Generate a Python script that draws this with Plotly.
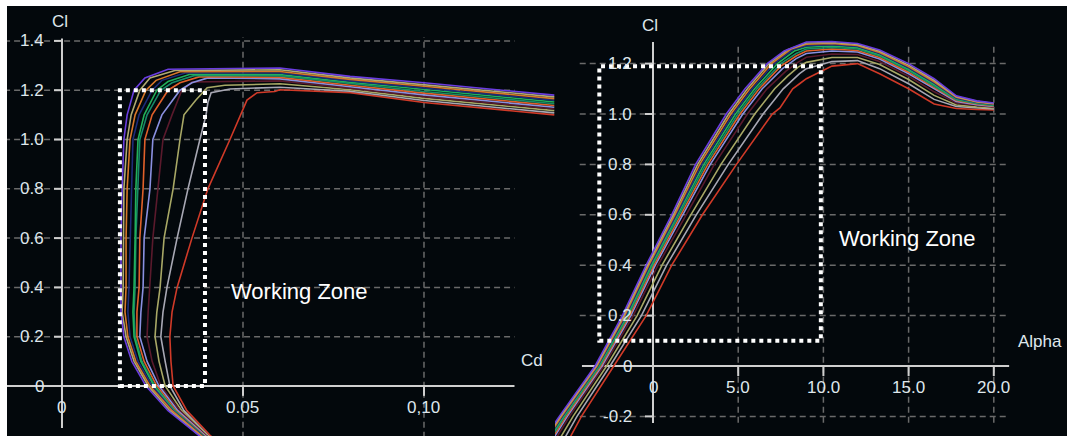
import plotly.graph_objects as go

# ---------------- data ----------------
CURVE_COLORS = ["#6a3de0", "#b0aa72", "#d8782a", "#1e2c78", "#22b05a", "#178a68",
                "#e0602a", "#8a90e0", "#5a1a2c", "#a8a866", "#a8a8b4", "#d03a28"]

# Left panel: Cl vs Cd polar
POLAR_CL_LEVELS = [-0.3, -0.2, -0.1, 0.0, 0.1, 0.2, 0.3, 0.4, 0.6, 0.8, 1.0, 1.1]
POLAR_CD = [
    [0.0459, 0.0378, 0.0293, 0.0232, 0.0193, 0.0171, 0.0163, 0.0163, 0.0163, 0.0166, 0.0171, 0.0180],
    [0.0461, 0.0381, 0.0298, 0.0238, 0.0199, 0.0177, 0.0166, 0.0169, 0.0169, 0.0171, 0.0180, 0.0191],
    [0.0464, 0.0384, 0.0304, 0.0243, 0.0204, 0.0182, 0.0174, 0.0177, 0.0177, 0.0180, 0.0188, 0.0202],
    [0.0467, 0.0387, 0.0307, 0.0249, 0.0210, 0.0188, 0.0182, 0.0185, 0.0188, 0.0191, 0.0196, 0.0213],
    [0.0470, 0.0387, 0.0309, 0.0254, 0.0218, 0.0199, 0.0196, 0.0199, 0.0202, 0.0204, 0.0210, 0.0227],
    [0.0472, 0.0390, 0.0312, 0.0257, 0.0221, 0.0202, 0.0199, 0.0202, 0.0204, 0.0210, 0.0215, 0.0235],
    [0.0475, 0.0392, 0.0315, 0.0262, 0.0227, 0.0207, 0.0207, 0.0213, 0.0215, 0.0224, 0.0229, 0.0249],
    [0.0478, 0.0395, 0.0320, 0.0268, 0.0235, 0.0215, 0.0218, 0.0224, 0.0227, 0.0243, 0.0251, 0.0276],
    [0.0481, 0.0398, 0.0326, 0.0273, 0.0249, 0.0235, 0.0238, 0.0243, 0.0251, 0.0265, 0.0279, 0.0304],
    [0.0483, 0.0401, 0.0331, 0.0285, 0.0268, 0.0257, 0.0262, 0.0271, 0.0282, 0.0307, 0.0326, 0.0337],
    [0.0486, 0.0403, 0.0337, 0.0298, 0.0285, 0.0273, 0.0279, 0.0290, 0.0318, 0.0348, 0.0381, 0.0398],
    [0.0489, 0.0409, 0.0345, 0.0307, 0.0301, 0.0298, 0.0304, 0.0318, 0.0359, 0.0403, 0.0464, 0.0492],
]
POLAR_KNEE_CD = [
    [0.0199, 0.0229, 0.0293], [0.0215, 0.0243, 0.0312], [0.0232, 0.0260, 0.0326],
    [0.0249, 0.0276, 0.0340], [0.0262, 0.0293, 0.0354], [0.0273, 0.0304, 0.0367],
    [0.0293, 0.0326, 0.0381], [0.0326, 0.0359, 0.0403], [0.0331, 0.0359, 0.0423],
    [0.0370, 0.0401, 0.0450], [0.0403, 0.0412, 0.0464], [0.0511, 0.0539, 0.0588],
]
POLAR_KNEE_CL = [
    [1.20, 1.25, 1.285], [1.20, 1.25, 1.28], [1.20, 1.24, 1.275],
    [1.20, 1.24, 1.27], [1.20, 1.235, 1.265], [1.20, 1.23, 1.26],
    [1.20, 1.23, 1.255], [1.20, 1.23, 1.25], [1.20, 1.233, 1.235],
    [1.16, 1.21, 1.22], [1.15, 1.19, 1.205], [1.16, 1.19, 1.195],
]
POLAR_TAIL_CD = [0.0602, 0.0796, 0.1000, 0.1360]
POLAR_TAIL_CL = [
    [1.290, 1.256, 1.230, 1.180], [1.283, 1.250, 1.223, 1.173], [1.276, 1.244, 1.216, 1.166],
    [1.270, 1.238, 1.209, 1.159], [1.264, 1.232, 1.202, 1.152], [1.258, 1.226, 1.195, 1.145],
    [1.252, 1.220, 1.188, 1.138], [1.246, 1.214, 1.181, 1.131], [1.238, 1.208, 1.174, 1.124],
    [1.226, 1.202, 1.167, 1.117], [1.212, 1.196, 1.158, 1.108], [1.202, 1.190, 1.150, 1.100],
]

# Right panel: Cl vs Alpha
RISE_CL_LEVELS = [-0.3, -0.2, 0.0, 0.2, 0.4, 0.6, 0.8, 1.0]
ALPHA_RISE = [
    [-6.50, -5.50, -3.40, -1.80, -0.40, 1.10, 2.50, 4.30],
    [-6.43, -5.44, -3.35, -1.73, -0.33, 1.19, 2.62, 4.44],
    [-6.35, -5.37, -3.29, -1.66, -0.25, 1.28, 2.74, 4.57],
    [-6.28, -5.31, -3.24, -1.59, -0.18, 1.37, 2.86, 4.71],
    [-6.20, -5.24, -3.18, -1.52, -0.10, 1.46, 2.98, 4.84],
    [-6.13, -5.18, -3.13, -1.45, -0.03, 1.55, 3.10, 4.98],
    [-6.05, -5.11, -3.07, -1.38, 0.05, 1.64, 3.22, 5.11],
    [-5.96, -5.03, -3.00, -1.30, 0.14, 1.75, 3.36, 5.27],
    [-5.81, -4.90, -2.89, -1.16, 0.29, 1.93, 3.60, 5.54],
    [-5.57, -4.69, -2.72, -0.93, 0.53, 2.22, 3.99, 5.97],
    [-5.30, -4.46, -2.52, -0.68, 0.80, 2.54, 4.42, 6.46],
    [-5.00, -4.20, -2.30, -0.40, 1.10, 2.90, 4.90, 7.00],
]
ALPHA_KNEE = [
    [5.40, 6.70, 7.70], [5.54, 6.80, 7.90], [5.68, 6.95, 8.10], [5.82, 7.10, 8.20],
    [5.96, 7.30, 8.30], [6.10, 7.50, 8.40], [6.24, 7.50, 8.40], [6.41, 7.60, 8.40],
    [6.69, 7.80, 8.50], [7.14, 7.90, 8.50], [7.64, 8.10, 8.60], [7.45, 8.20, 8.60],
]
ALPHA_KNEE_CL = [
    [1.10, 1.20, 1.25], [1.10, 1.20, 1.255], [1.10, 1.20, 1.258], [1.10, 1.20, 1.255],
    [1.10, 1.20, 1.25], [1.10, 1.20, 1.24], [1.10, 1.19, 1.23], [1.10, 1.18, 1.22],
    [1.10, 1.17, 1.205], [1.10, 1.15, 1.185], [1.10, 1.13, 1.16], [1.024, 1.10, 1.12],
]
ALPHA_TAIL = [9.0, 10.5, 12.0, 13.3, 15.0, 16.5, 17.8, 19.0, 20.0]
ALPHA_TAIL_CL = [
    [1.286, 1.288, 1.280, 1.254, 1.200, 1.140, 1.072, 1.052, 1.044],
    [1.282, 1.284, 1.276, 1.249, 1.194, 1.134, 1.069, 1.050, 1.042],
    [1.277, 1.280, 1.272, 1.244, 1.188, 1.128, 1.066, 1.048, 1.040],
    [1.271, 1.275, 1.268, 1.240, 1.183, 1.123, 1.063, 1.046, 1.038],
    [1.265, 1.270, 1.263, 1.235, 1.177, 1.117, 1.060, 1.044, 1.036],
    [1.258, 1.264, 1.258, 1.230, 1.172, 1.112, 1.057, 1.042, 1.034],
    [1.250, 1.258, 1.252, 1.224, 1.166, 1.106, 1.054, 1.040, 1.032],
    [1.240, 1.250, 1.246, 1.218, 1.160, 1.100, 1.050, 1.037, 1.030],
    [1.225, 1.238, 1.236, 1.208, 1.150, 1.088, 1.044, 1.034, 1.027],
    [1.205, 1.224, 1.224, 1.196, 1.137, 1.074, 1.036, 1.028, 1.024],
    [1.180, 1.208, 1.212, 1.180, 1.120, 1.058, 1.030, 1.024, 1.020],
    [1.140, 1.190, 1.200, 1.160, 1.100, 1.040, 1.022, 1.018, 1.016],
]

# Working zones
LEFT_ZONE_CD = [0.0160, 0.0395]
LEFT_ZONE_CL = [0.0, 1.2]
RIGHT_ZONE_ALPHA = [-3.15, 9.85]
RIGHT_ZONE_CL = [0.10, 1.19]

# Tick labels
LEFT_Y_TICKS = [0.0, 0.2, 0.4, 0.6, 0.8, 1.0, 1.2, 1.4]
LEFT_Y_LABELS = ["0", "0.2", "0.4", "0.6", "0.8", "1.0", "1.2", "1.4"]
LEFT_X_TICKS = [0.0, 0.05, 0.10]
LEFT_X_LABELS = ["0", "0.05", "0,10"]
RIGHT_Y_TICKS = [-0.2, 0.0, 0.2, 0.4, 0.6, 0.8, 1.0, 1.2]
RIGHT_Y_LABELS = ["-0.2", "0", "0.2", "0.4", "0.6", "0.8", "1.0", "1.2"]
RIGHT_X_TICKS = [0.0, 5.0, 10.0, 15.0, 20.0]
RIGHT_X_LABELS = ["0", "5.0", "10.0", "15.0", "20.0"]

# ---------------- style ----------------
BG = "#03080c"
GRID = "#6a6a6a"
AXIS = "#cfcfcf"
TICKFONT = dict(family="Liberation Sans, Arial, sans-serif", size=17, color="#dfe7ec")
ZONEFONT = dict(family="Liberation Sans, Arial, sans-serif", size=22, color="#ffffff")

fig = go.Figure()
for i in reversed(range(len(CURVE_COLORS))):
    fig.add_trace(go.Scatter(
        x=POLAR_CD[i] + POLAR_KNEE_CD[i] + POLAR_TAIL_CD,
        y=POLAR_CL_LEVELS + POLAR_KNEE_CL[i] + POLAR_TAIL_CL[i],
        mode="lines", line=dict(color=CURVE_COLORS[i], width=1.6),
        xaxis="x", yaxis="y", showlegend=False, hoverinfo="skip"))
    fig.add_trace(go.Scatter(
        x=ALPHA_RISE[i] + ALPHA_KNEE[i] + ALPHA_TAIL,
        y=RISE_CL_LEVELS + ALPHA_KNEE_CL[i] + ALPHA_TAIL_CL[i],
        mode="lines", line=dict(color=CURVE_COLORS[i], width=1.6),
        xaxis="x2", yaxis="y2", showlegend=False, hoverinfo="skip"))

shapes = []
def seg(xref, yref, x0, y0, x1, y1, color, width, dash="solid", layer="below"):
    shapes.append(dict(type="line", xref=xref, yref=yref, x0=x0, y0=y0, x1=x1, y1=y1,
                       line=dict(color=color, width=width, dash=dash), layer=layer))

GD = "6px,4px"
# left grid
for v in LEFT_Y_TICKS[1:]:
    seg("x", "y", -0.016, v, 0.125, v, GRID, 1.5, GD)
for v in LEFT_X_TICKS[1:]:
    seg("x", "y", v, -0.21, v, 1.415, GRID, 1.5, GD)
# right grid
for v in RIGHT_Y_TICKS:
    if v != 0:
        seg("x2", "y2", -4.3, v, 20.9, v, GRID, 1.5, GD)
for v in RIGHT_X_TICKS[1:]:
    seg("x2", "y2", v, -0.225, v, 1.282, GRID, 1.5, GD)

# axes lines
seg("x", "y", -0.016, 0, 0.125, 0, AXIS, 2)
seg("x", "y", 0, -0.17, 0, 1.41, AXIS, 2)
seg("x2", "y2", -4.17, 0, 20.9, 0, AXIS, 2)
seg("x2", "y2", 0, -0.226, 0, 1.286, AXIS, 2)
# tick marks
for v in LEFT_Y_TICKS:
    seg("x", "y", -0.0022, v, 0, v, AXIS, 2)
for v in LEFT_X_TICKS[1:]:
    seg("x", "y", v, -0.04, v, 0, AXIS, 2)
for v in RIGHT_Y_TICKS:
    seg("x2", "y2", -0.47, v, 0, v, AXIS, 2)
for v in RIGHT_X_TICKS[1:]:
    seg("x2", "y2", v, -0.04, v, 0, AXIS, 2)

# working zones
shapes.append(dict(type="rect", xref="x", yref="y",
                   x0=LEFT_ZONE_CD[0], x1=LEFT_ZONE_CD[1], y0=LEFT_ZONE_CL[0], y1=LEFT_ZONE_CL[1],
                   line=dict(color="white", width=4, dash="4px,4px"), layer="above"))
shapes.append(dict(type="rect", xref="x2", yref="y2",
                   x0=RIGHT_ZONE_ALPHA[0], x1=RIGHT_ZONE_ALPHA[1], y0=RIGHT_ZONE_CL[0], y1=RIGHT_ZONE_CL[1],
                   line=dict(color="white", width=4, dash="4px,4px"), layer="above"))

ann = []
def txt(xref, yref, x, y, s, font, xanchor="center", yanchor="middle"):
    ann.append(dict(xref=xref, yref=yref, x=x, y=y, text=s, showarrow=False,
                    font=font, xanchor=xanchor, yanchor=yanchor))

for v, s in zip(LEFT_Y_TICKS, LEFT_Y_LABELS):
    txt("x", "y", -0.0044, v, s, TICKFONT, xanchor="right")
for v, s in zip(LEFT_X_TICKS, LEFT_X_LABELS):
    txt("x", "y", v, -0.089, s, TICKFONT)
for v, s in zip(RIGHT_Y_TICKS, RIGHT_Y_LABELS):
    txt("x2", "y2", -1.1, v, s, TICKFONT, xanchor="right")
for v, s in zip(RIGHT_X_TICKS, RIGHT_X_LABELS):
    txt("x2", "y2", v, -0.087, s, TICKFONT)

txt("x", "y", -0.0005, 1.48, "Cl", TICKFONT)
txt("x", "y", 0.1298, 0.105, "Cd", TICKFONT)
txt("x2", "y2", -0.18, 1.35, "Cl", TICKFONT)
txt("x2", "y2", 22.7, 0.099, "Alpha", TICKFONT)
txt("x", "y", 0.0657, 0.385, "Working Zone", ZONEFONT)
txt("x2", "y2", 14.96, 0.506, "Working Zone", ZONEFONT)

split = 548 / 1060
fig.update_layout(
    width=1067, height=436,
    margin=dict(l=7, r=0, t=6, b=0, pad=0),
    paper_bgcolor="white", plot_bgcolor=BG,
    xaxis=dict(domain=[0, split], range=[-0.01519, 0.13619], visible=False),
    yaxis=dict(domain=[0, 1], range=[-0.2028, 1.5416], visible=False),
    xaxis2=dict(domain=[split, 1], range=[-5.751, 24.296], visible=False, anchor="y2"),
    yaxis2=dict(domain=[0, 1], range=[-0.2778, 1.4286], visible=False, anchor="x2"),
    shapes=shapes, annotations=ann, showlegend=False,
)

fig.write_html("out.html", config={"displayModeBar": False},
               post_script="document.body.style.margin='0';document.body.style.overflow='hidden';")
